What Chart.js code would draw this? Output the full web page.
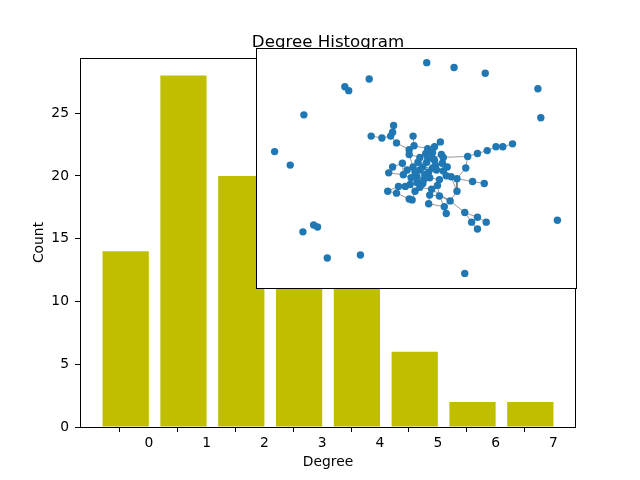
<!DOCTYPE html>
<html>
<head>
<meta charset="utf-8">
<script src="https://cdn.jsdelivr.net/npm/chart.js@4/dist/chart.umd.min.js"></script>
<style>
html, body { margin: 0; padding: 0; background: #ffffff; }
#wrap { position: relative; width: 640px; height: 480px; overflow: hidden; }
#main { position: absolute; left: 0; top: 0; }
#inset { position: absolute; left: 256px; top: 48px; }
</style>
</head>
<body>
<div id="wrap">
  <canvas id="main" width="640" height="480"></canvas>
  <canvas id="inset" width="321" height="241"></canvas>
</div>
<script>
// ---- Histogram data ----
const chartTitle = 'Degree Histogram';
const xTitle = 'Degree';
const yTitle = 'Count';
const degrees = [0, 1, 2, 3, 4, 5, 6, 7];
const counts = [14, 28, 20, 16, 12, 6, 2, 2];
const tickLabels = ['0', '1', '2', '3', '4', '5', '6', '7'];
const yTicks = [0, 5, 10, 15, 20, 25];

// ---- Network layout (node positions in layout units) ----
const nodeX = [
  -48, -115, -145, -129, 11, 39, 71, 125, 128, 145,      // 0-9
  50, -57, -91, -116, -73, -69, -105, -101, -23, -24,   // 10-19
  -26, -46, -35, -20, -3, -7, -2, -7, 25, 19,           // 20-29
  12, 26, 28, 53, 63, 73, 82, 89, 99, 32,               // 30-39
  51, 4, 17, 11, 19, -14, -24, -28, -9, -3,             // 40-49
  4, 9, 1, 21, 14, 7, 17, 31, 1, 7,                     // 50-59
  16, -1, -11, -18, -29, -20, 14, 24, -7, -4,           // 60-69
  13, 29, 31, 36, 42, 58, 70, 42, 35, 50,               // 70-79
  63, 57, 72, 63, -13, 10, 2, 12, 20, 8,                // 80-89
  -5, 24, 27, -1, 13, 4, 22, 17, 28, -6                 // 90-99
];
const nodeY = [
  92, 55, 17, 3, 109, 104, 98, 82, 52, -54,
  -109, -90, -93, -66, 84, 80, -59, -61, 44, 37,
  33, 33, 31, 26, 33, 19, 23, 14, 27, 22,
  20, 14, 11, 12, 15, 18, 22, 22, 25, 1,
  0, 11, 16, 6, 8, 5, 1, -5, -2, 1,
  -2, -7, -9, -2, -10, 1, 0, -8, -15, -16,
  -22, -24, -19, -19, -24, -26, -28, -29, -32, -33,
  -37, -40, -47, -9, -11, -14, -16, -24, -34, -46,
  -51, -56, -56, -63, -7, 15, 6, 11, 3, -12,
  -10, -12, 5, -4, -4, -20, -18, 10, -3, -17
];
const edgeFrom = [
  14, 16,
  18, 19, 20, 21, 22, 23, 24, 26, 25, 26,
  28, 29, 30, 31, 32, 33, 34, 35, 36, 37, 33, 40, 74, 74, 75, 74, 77, 78, 79, 79, 80, 81, 39, 78, 67, 71, 42, 31,
  41, 41, 85, 87, 97, 42, 44, 88, 92, 98, 57, 53, 53, 56, 55, 50, 86, 43, 49, 48, 45, 46, 47, 84, 90, 52, 93,
  51, 51, 89, 59, 58, 99, 62, 63, 63, 61, 95, 60, 66, 68, 69, 54, 91, 96, 54, 56, 49, 27, 27, 44, 53, 62, 52,
  61, 70, 43, 88, 45, 95, 77, 66, 78, 65, 64, 32
];
const edgeTo = [
  15, 17,
  19, 20, 23, 22, 20, 25, 26, 25, 27, 30,
  29, 30, 85, 32, 33, 34, 35, 36, 37, 38, 40, 74, 73, 75, 76, 77, 78, 79, 80, 81, 82, 83, 88, 60, 71, 72, 28, 97,
  85, 86, 87, 97, 42, 44, 88, 92, 98, 57, 73, 88, 94, 55, 50, 86, 43, 87, 48, 45, 46, 47, 84, 90, 52, 93, 50,
  94, 89, 59, 58, 99, 62, 63, 64, 65, 95, 60, 66, 70, 69, 61, 91, 96, 67, 89, 94, 41, 49, 41, 56, 98, 90, 58,
  99, 71, 55, 56, 84, 59, 73, 67, 67, 68, 65, 39
];

const FONT = "'DejaVu Sans', 'Liberation Sans', sans-serif";
const BAR_COLOR = '#bfbf00';
const NODE_COLOR = '#1f77b4';

// ---- Main histogram ----
const frameAndTitle = {
  id: 'frameAndTitle',
  afterDraw(chart) {
    const { ctx, chartArea: a } = chart;
    ctx.save();
    ctx.strokeStyle = '#000';
    ctx.lineWidth = 1;
    ctx.strokeRect(Math.round(a.left) + 0.5, Math.round(a.top) + 0.5,
                   Math.round(a.right - a.left) - 1, Math.round(a.bottom - a.top));
    ctx.fillStyle = '#000';
    ctx.font = '16.67px ' + FONT;
    ctx.textAlign = 'center';
    ctx.textBaseline = 'alphabetic';
    ctx.fillText(chartTitle, (a.left + a.right) / 2, a.top - 11);
    ctx.restore();
  }
};

new Chart(document.getElementById('main'), {
  type: 'bar',
  data: {
    datasets: [{
      data: degrees.map((d, i) => ({ x: d, y: counts[i] })),
      backgroundColor: BAR_COLOR,
      borderWidth: 0,
      barPercentage: 0.8,
      categoryPercentage: 1.0
    }]
  },
  options: {
    animation: false,
    responsive: false,
    devicePixelRatio: 1,
    layout: { padding: { left: 0, right: 64, top: 58, bottom: 0 } },
    plugins: { legend: { display: false }, tooltip: { enabled: false }, title: { display: false } },
    scales: {
      x: {
        type: 'linear',
        min: -0.79,
        max: 7.79,
        offset: false,
        grid: { drawOnChartArea: false, drawTicks: true, tickLength: 5, color: '#000' },
        border: { display: false },
        afterBuildTicks: (s) => { s.ticks = degrees.map(d => ({ value: d + 0.4 })); },
        afterFit: (s) => { s.height = 53; },
        ticks: {
          autoSkip: false,
          maxRotation: 0,
          color: '#000',
          padding: 3,
          font: { family: FONT, size: 13.89 },
          callback: (v, i) => tickLabels[i]
        },
        title: {
          display: true, text: xTitle, color: '#000',
          font: { family: FONT, size: 13.89, lineHeight: 1.2 },
          padding: { top: 0, bottom: 9 }
        }
      },
      y: {
        type: 'linear',
        min: 0,
        max: 29.4,
        grid: { drawOnChartArea: false, drawTicks: true, tickLength: 5, color: '#000' },
        border: { display: false },
        afterBuildTicks: (s) => { s.ticks = yTicks.map(v => ({ value: v })); },
        afterFit: (s) => { s.width = 80; },
        ticks: {
          color: '#000',
          padding: 6,
          font: { family: FONT, size: 13.89 },
          callback: (v) => String(v)
        },
        title: {
          display: true, text: yTitle, color: '#000',
          font: { family: FONT, size: 13.89, lineHeight: 1.2 },
          padding: { top: 31, bottom: 0 }
        }
      }
    }
  },
  plugins: [frameAndTitle]
});

// ---- Inset network ----
const insetFrame = {
  id: 'insetFrame',
  beforeDraw(chart) {
    const { ctx, width, height } = chart;
    ctx.save();
    ctx.fillStyle = '#ffffff';
    ctx.fillRect(0, 0, width, height);
    ctx.restore();
  },
  afterDraw(chart) {
    const { ctx, width, height } = chart;
    ctx.save();
    ctx.strokeStyle = '#000';
    ctx.lineWidth = 1;
    ctx.strokeRect(0.5, 0.5, width - 1, height - 1);
    ctx.restore();
  }
};

const nodeData = nodeX.map((x, i) => ({ x: x, y: nodeY[i] }));
const edgeSets = edgeFrom.map((a, k) => ({
  data: [nodeData[a], nodeData[edgeTo[k]]],
  showLine: true,
  pointRadius: 0,
  borderColor: 'rgba(0,0,0,0.4)',
  borderWidth: 1,
  order: 1
}));

new Chart(document.getElementById('inset'), {
  type: 'scatter',
  data: {
    datasets: [{
      data: nodeData,
      pointRadius: 3.7,
      pointBackgroundColor: NODE_COLOR,
      pointBorderWidth: 0,
      showLine: false,
      order: 0
    }].concat(edgeSets)
  },
  options: {
    animation: false,
    responsive: false,
    devicePixelRatio: 1,
    layout: { padding: 0 },
    plugins: { legend: { display: false }, tooltip: { enabled: false } },
    scales: {
      x: { type: 'linear', min: -160, max: 161, display: false },
      y: { type: 'linear', min: -121, max: 120, display: false }
    }
  },
  plugins: [insetFrame]
});
</script>
</body>
</html>
